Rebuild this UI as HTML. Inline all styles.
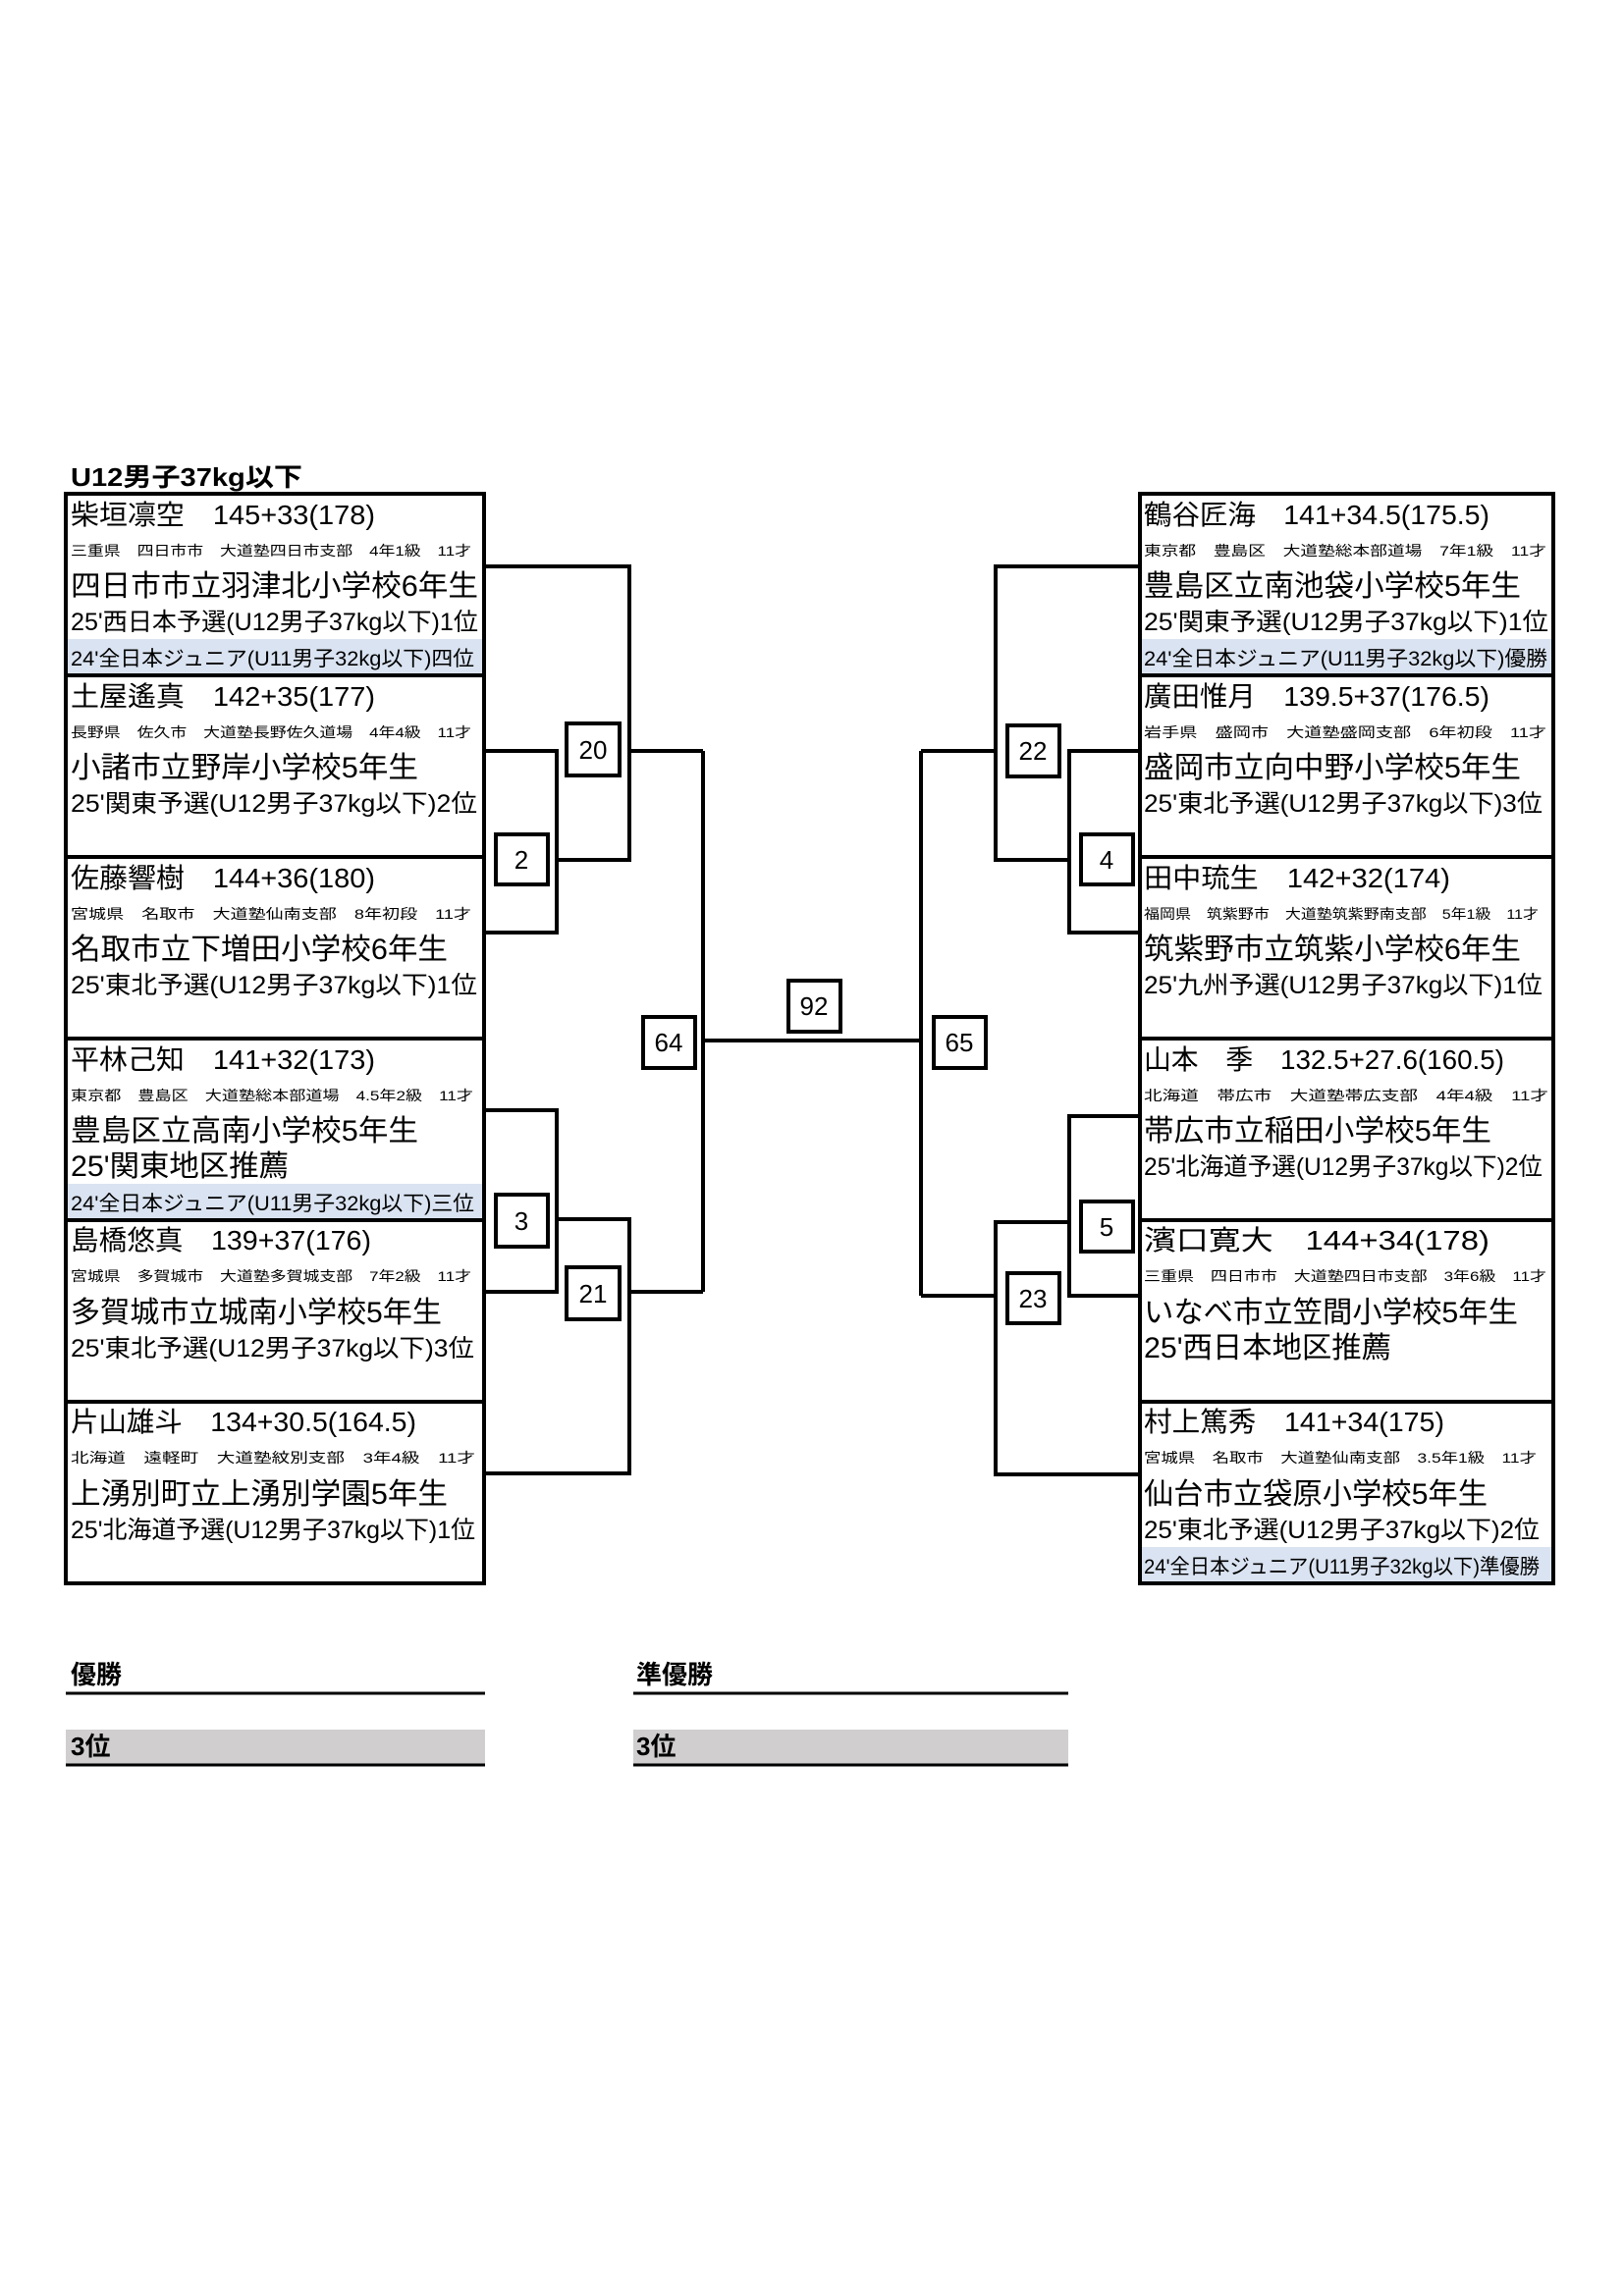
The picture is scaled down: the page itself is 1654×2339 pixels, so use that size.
<!DOCTYPE html>
<html><head><meta charset="utf-8"><style>
html,body{margin:0;padding:0;background:#fff;}
svg{display:block;}
text{font-family:"Liberation Sans","Noto Sans CJK JP",sans-serif;fill:#000;}
.b{font-weight:bold;}
</style></head><body>
<svg width="1654" height="2339" viewBox="0 0 1654 2339" xmlns="http://www.w3.org/2000/svg">
<rect width="1654" height="2339" fill="#fff"/>
<text x="72" y="495" font-size="26" class="b" textLength="236" lengthAdjust="spacingAndGlyphs">U12男子37kg以下</text>

<!-- highlight backgrounds -->
<rect x="67" y="651" width="424" height="37" fill="#dae3f1"/>
<rect x="67" y="1206" width="424" height="37" fill="#dae3f1"/>

<g stroke="#000" stroke-width="4" fill="none">
<rect x="67" y="503" width="426" height="1110"/>
<line x1="67" y1="688" x2="493" y2="688"/>
<line x1="67" y1="873" x2="493" y2="873"/>
<line x1="67" y1="1058" x2="493" y2="1058"/>
<line x1="67" y1="1243" x2="493" y2="1243"/>
<line x1="67" y1="1428" x2="493" y2="1428"/>
<polyline points="493,577 641,577 641,876 567,876"/>
<polyline points="493,765 567,765 567,950 493,950"/>
<line x1="641" y1="765" x2="716" y2="765"/>
<polyline points="493,1131 567,1131 567,1316 493,1316"/>
<polyline points="567,1242 641,1242 641,1501 493,1501"/>
<line x1="641" y1="1316" x2="716" y2="1316"/>
<line x1="716" y1="765" x2="716" y2="1316"/>
<line x1="716" y1="1060" x2="940" y2="1060"/>
</g>

<g transform="translate(-4,0)">
<rect x="1165" y="651" width="419" height="37" fill="#dae3f1"/>
<rect x="1165" y="1576" width="419" height="37" fill="#dae3f1"/>
<g stroke="#000" stroke-width="4" fill="none">
<rect x="1165" y="503" width="421" height="1110"/>
<line x1="1165" y1="688" x2="1586" y2="688"/>
<line x1="1165" y1="873" x2="1586" y2="873"/>
<line x1="1165" y1="1058" x2="1586" y2="1058"/>
<line x1="1165" y1="1243" x2="1586" y2="1243"/>
<line x1="1165" y1="1428" x2="1586" y2="1428"/>
<line x1="942" y1="765" x2="942" y2="1320"/>
<line x1="942" y1="765" x2="1018" y2="765"/>
<polyline points="1165,577 1018,577 1018,876 1093,876"/>
<polyline points="1165,765 1093,765 1093,950 1165,950"/>
<line x1="942" y1="1320" x2="1018" y2="1320"/>
<polyline points="1165,1137 1093,1137 1093,1320 1165,1320"/>
<polyline points="1093,1245 1018,1245 1018,1502 1165,1502"/>
</g>
<g stroke="#000" stroke-width="4" fill="#fff">
<rect x="955" y="1036" width="53" height="52"/>
<rect x="1030" y="739" width="53" height="52"/>
<rect x="1105" y="850" width="53" height="51"/>
<rect x="1105" y="1224" width="53" height="51"/>
<rect x="1030" y="1297" width="53" height="51"/>
</g>
<g font-size="26" text-anchor="middle">
<text x="981" y="1071">65</text>
<text x="1056" y="774">22</text>
<text x="1131" y="885">4</text>
<text x="1131" y="1259">5</text>
<text x="1056" y="1332">23</text>
</g>
<text x="1169" y="534" font-size="28" textLength="352" lengthAdjust="spacingAndGlyphs">鶴谷匠海　141+34.5(175.5)</text>
<text x="1169" y="566" font-size="14" textLength="410" lengthAdjust="spacingAndGlyphs">東京都　豊島区　大道塾総本部道場　7年1級　11才</text>
<text x="1169" y="607" font-size="30" textLength="384" lengthAdjust="spacingAndGlyphs">豊島区立南池袋小学校5年生</text>
<text x="1169" y="642" font-size="25" textLength="412" lengthAdjust="spacingAndGlyphs">25'関東予選(U12男子37kg以下)1位</text>
<text x="1169" y="678" font-size="21" textLength="411" lengthAdjust="spacingAndGlyphs">24'全日本ジュニア(U11男子32kg以下)優勝</text>

<text x="1169" y="719" font-size="28" textLength="352" lengthAdjust="spacingAndGlyphs">廣田惟月　139.5+37(176.5)</text>
<text x="1169" y="751" font-size="14" textLength="410" lengthAdjust="spacingAndGlyphs">岩手県　盛岡市　大道塾盛岡支部　6年初段　11才</text>
<text x="1169" y="792" font-size="30" textLength="384" lengthAdjust="spacingAndGlyphs">盛岡市立向中野小学校5年生</text>
<text x="1169" y="827" font-size="25" textLength="406" lengthAdjust="spacingAndGlyphs">25'東北予選(U12男子37kg以下)3位</text>

<text x="1169" y="904" font-size="28" textLength="312" lengthAdjust="spacingAndGlyphs">田中琉生　142+32(174)</text>
<text x="1169" y="936" font-size="14" textLength="402" lengthAdjust="spacingAndGlyphs">福岡県　筑紫野市　大道塾筑紫野南支部　5年1級　11才</text>
<text x="1169" y="977" font-size="30" textLength="384" lengthAdjust="spacingAndGlyphs">筑紫野市立筑紫小学校6年生</text>
<text x="1169" y="1012" font-size="25" textLength="406" lengthAdjust="spacingAndGlyphs">25'九州予選(U12男子37kg以下)1位</text>

<text x="1169" y="1089" font-size="28" textLength="367" lengthAdjust="spacingAndGlyphs">山本　季　132.5+27.6(160.5)</text>
<text x="1169" y="1121" font-size="14" textLength="412" lengthAdjust="spacingAndGlyphs">北海道　帯広市　大道塾帯広支部　4年4級　11才</text>
<text x="1169" y="1162" font-size="30" textLength="354" lengthAdjust="spacingAndGlyphs">帯広市立稲田小学校5年生</text>
<text x="1169" y="1197" font-size="25" textLength="406" lengthAdjust="spacingAndGlyphs">25'北海道予選(U12男子37kg以下)2位</text>

<text x="1169" y="1273" font-size="28" textLength="352" lengthAdjust="spacingAndGlyphs">濱口寛大　144+34(178)</text>
<text x="1169" y="1305" font-size="14" textLength="410" lengthAdjust="spacingAndGlyphs">三重県　四日市市　大道塾四日市支部　3年6級　11才</text>
<text x="1169" y="1347" font-size="30" textLength="381" lengthAdjust="spacingAndGlyphs">いなべ市立笠間小学校5年生</text>
<text x="1169" y="1383" font-size="30" textLength="252" lengthAdjust="spacingAndGlyphs">25'西日本地区推薦</text>

<text x="1169" y="1458" font-size="28" textLength="306" lengthAdjust="spacingAndGlyphs">村上篤秀　141+34(175)</text>
<text x="1169" y="1490" font-size="14" textLength="400" lengthAdjust="spacingAndGlyphs">宮城県　名取市　大道塾仙南支部　3.5年1級　11才</text>
<text x="1169" y="1532" font-size="30" textLength="350" lengthAdjust="spacingAndGlyphs">仙台市立袋原小学校5年生</text>
<text x="1169" y="1567" font-size="25" textLength="403" lengthAdjust="spacingAndGlyphs">25'東北予選(U12男子37kg以下)2位</text>
<text x="1169" y="1603" font-size="21" textLength="403" lengthAdjust="spacingAndGlyphs">24'全日本ジュニア(U11男子32kg以下)準優勝</text>
</g>

<!-- number boxes left/center -->
<g stroke="#000" stroke-width="4" fill="#fff">
<rect x="577" y="737" width="54" height="53"/>
<rect x="505" y="850" width="53" height="51"/>
<rect x="505" y="1217" width="53" height="53"/>
<rect x="577" y="1291" width="54" height="53"/>
<rect x="655" y="1036" width="53" height="52"/>
<rect x="803" y="999" width="53" height="52"/>
</g>
<g font-size="26" text-anchor="middle">
<text x="604" y="773">20</text>
<text x="531" y="885">2</text>
<text x="531" y="1253">3</text>
<text x="604" y="1327">21</text>
<text x="681" y="1071">64</text>
<text x="829" y="1034">92</text>
</g>

<text x="72" y="534" font-size="28" textLength="310" lengthAdjust="spacingAndGlyphs">柴垣凛空　145+33(178)</text>
<text x="72" y="566" font-size="14" textLength="408" lengthAdjust="spacingAndGlyphs">三重県　四日市市　大道塾四日市支部　4年1級　11才</text>
<text x="72" y="607" font-size="30" textLength="415" lengthAdjust="spacingAndGlyphs">四日市市立羽津北小学校6年生</text>
<text x="72" y="642" font-size="25" textLength="415" lengthAdjust="spacingAndGlyphs">25'西日本予選(U12男子37kg以下)1位</text>
<text x="72" y="678" font-size="21" textLength="411" lengthAdjust="spacingAndGlyphs">24'全日本ジュニア(U11男子32kg以下)四位</text>

<text x="72" y="719" font-size="28" textLength="310" lengthAdjust="spacingAndGlyphs">土屋遙真　142+35(177)</text>
<text x="72" y="751" font-size="14" textLength="408" lengthAdjust="spacingAndGlyphs">長野県　佐久市　大道塾長野佐久道場　4年4級　11才</text>
<text x="72" y="792" font-size="30" textLength="354" lengthAdjust="spacingAndGlyphs">小諸市立野岸小学校5年生</text>
<text x="72" y="827" font-size="25" textLength="414" lengthAdjust="spacingAndGlyphs">25'関東予選(U12男子37kg以下)2位</text>

<text x="72" y="904" font-size="28" textLength="310" lengthAdjust="spacingAndGlyphs">佐藤響樹　144+36(180)</text>
<text x="72" y="936" font-size="14" textLength="408" lengthAdjust="spacingAndGlyphs">宮城県　名取市　大道塾仙南支部　8年初段　11才</text>
<text x="72" y="977" font-size="30" textLength="384" lengthAdjust="spacingAndGlyphs">名取市立下増田小学校6年生</text>
<text x="72" y="1012" font-size="25" textLength="414" lengthAdjust="spacingAndGlyphs">25'東北予選(U12男子37kg以下)1位</text>

<text x="72" y="1089" font-size="28" textLength="310" lengthAdjust="spacingAndGlyphs">平林己知　141+32(173)</text>
<text x="72" y="1121" font-size="14" textLength="410" lengthAdjust="spacingAndGlyphs">東京都　豊島区　大道塾総本部道場　4.5年2級　11才</text>
<text x="72" y="1162" font-size="30" textLength="354" lengthAdjust="spacingAndGlyphs">豊島区立高南小学校5年生</text>
<text x="72" y="1198" font-size="30" textLength="222" lengthAdjust="spacingAndGlyphs">25'関東地区推薦</text>
<text x="72" y="1233" font-size="21" textLength="411" lengthAdjust="spacingAndGlyphs">24'全日本ジュニア(U11男子32kg以下)三位</text>

<text x="72" y="1273" font-size="28" textLength="306" lengthAdjust="spacingAndGlyphs">島橋悠真　139+37(176)</text>
<text x="72" y="1305" font-size="14" textLength="408" lengthAdjust="spacingAndGlyphs">宮城県　多賀城市　大道塾多賀城支部　7年2級　11才</text>
<text x="72" y="1347" font-size="30" textLength="378" lengthAdjust="spacingAndGlyphs">多賀城市立城南小学校5年生</text>
<text x="72" y="1382" font-size="25" textLength="411" lengthAdjust="spacingAndGlyphs">25'東北予選(U12男子37kg以下)3位</text>

<text x="72" y="1458" font-size="28" textLength="352" lengthAdjust="spacingAndGlyphs">片山雄斗　134+30.5(164.5)</text>
<text x="72" y="1490" font-size="14" textLength="412" lengthAdjust="spacingAndGlyphs">北海道　遠軽町　大道塾紋別支部　3年4級　11才</text>
<text x="72" y="1532" font-size="30" textLength="384" lengthAdjust="spacingAndGlyphs">上湧別町立上湧別学園5年生</text>
<text x="72" y="1567" font-size="25" textLength="412" lengthAdjust="spacingAndGlyphs">25'北海道予選(U12男子37kg以下)1位</text>

<!-- bottom -->
<rect x="67" y="1762" width="427" height="35" fill="#d0cece"/>
<rect x="645" y="1762" width="443" height="35" fill="#d0cece"/>
<g stroke="#000" stroke-width="3">
<line x1="67" y1="1725" x2="494" y2="1725"/>
<line x1="645" y1="1725" x2="1088" y2="1725"/>
<line x1="67" y1="1798" x2="494" y2="1798"/>
<line x1="645" y1="1798" x2="1088" y2="1798"/>
</g>
<text x="72" y="1715" font-size="26" class="b">優勝</text>
<text x="648" y="1715" font-size="26" class="b">準優勝</text>
<text x="72" y="1788" font-size="26" class="b">3位</text>
<text x="648" y="1788" font-size="26" class="b">3位</text>
</svg>
</body></html>
